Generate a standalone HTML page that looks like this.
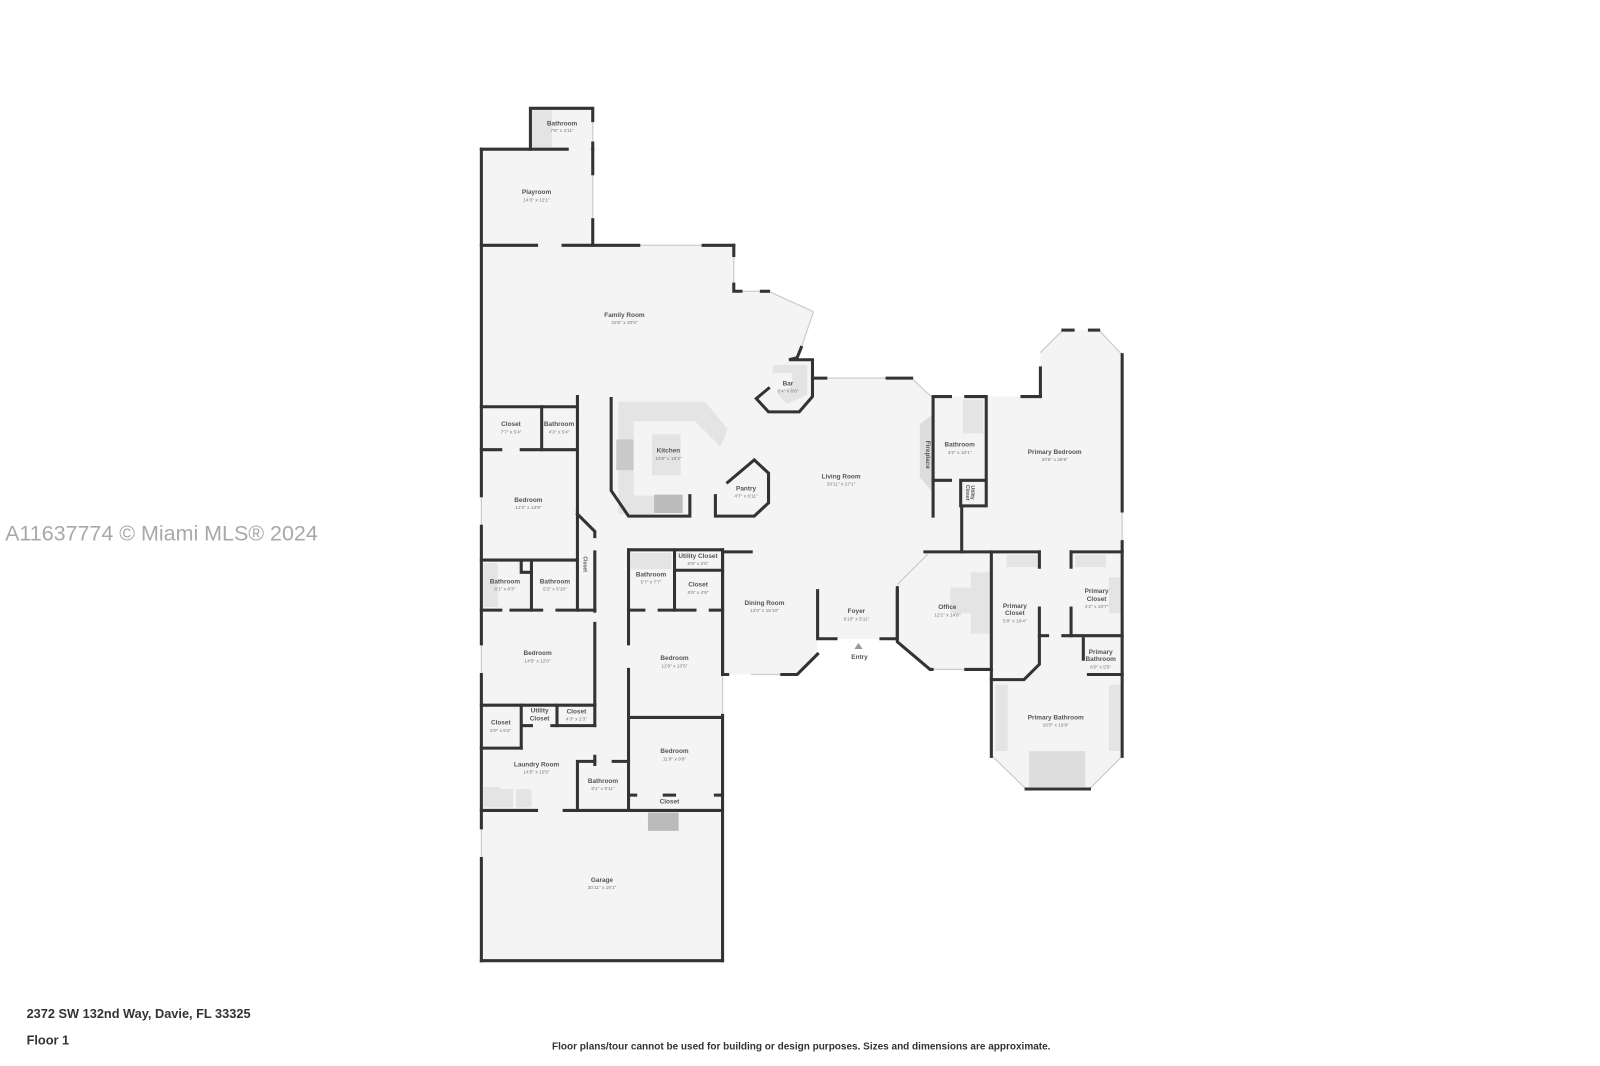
<!DOCTYPE html>
<html><head><meta charset="utf-8"><style>
html,body{margin:0;padding:0;background:#fff;}
svg{display:block;}
.n{font-family:"Liberation Sans",sans-serif;font-size:6.3px;fill:#555;text-anchor:middle;font-weight:bold;}
.d{font-family:"Liberation Sans",sans-serif;font-size:4.7px;fill:#777;text-anchor:middle;}
.w{fill:none;stroke:#333;stroke-width:3;stroke-linecap:square;stroke-linejoin:miter;}
.g{fill:none;stroke:#ccc;stroke-width:1.2;}
.f{fill:#e4e4e4;}
</style></head><body>
<svg width="1600" height="1066" viewBox="0 0 1600 1066" xmlns="http://www.w3.org/2000/svg">
<rect width="1600" height="1066" fill="#fff"/>
<g transform="scale(1.022)">
<polygon fill="#f4f4f4" points="471,146 519,146 519,106 580,106 580,240 718,240 718,285 752,285 796,305 784,340 780,352 795,352 795,370 892,370 913,392 913,388 1018,388 1018,345 1040,323 1075,323 1098,347 1098,740 1066,772 1004,772 971,740 971,655 910,655 878,628 862,625 818,625 800,625 800,640 780,660 707,660 707,940 471,940"/>
<polygon class="f" points="605,393 690,393 712,420 705,437 680,412 620,412 620,485 640,485 640,503 605,503"/>
<rect x="603" y="430" width="17" height="30" fill="#c9c9c9"/>
<rect x="640" y="484" width="28" height="18" fill="#bbb"/>
<rect x="638" y="425" width="28" height="40" class="f"/>
<polygon class="f" points="756,357 790,357 790,386 770,395 760,385 775,378 775,365 756,365"/>
<polygon fill="#ddd" points="900,415 913,405 913,482 900,467"/>
<rect x="942" y="391" width="20" height="33" class="f"/>
<rect x="473" y="551" width="14" height="43" class="f"/>
<rect x="617" y="541" width="40" height="16" class="f"/>
<rect x="473" y="770" width="16" height="20" class="f"/>
<rect x="487" y="772" width="15" height="18" class="f"/>
<rect x="505" y="772" width="15" height="18" class="f"/>
<rect x="634" y="795" width="30" height="18" fill="#bbb"/>
<rect x="520" y="108" width="20" height="36" class="f"/>
<rect x="950" y="560" width="20" height="60" class="f"/>
<rect x="930" y="575" width="40" height="25" class="f"/>
<rect x="1007" y="735" width="55" height="35" fill="#ddd"/>
<rect x="974" y="670" width="12" height="65" class="f"/>
<rect x="1085" y="670" width="12" height="65" class="f"/>
<rect x="985" y="543" width="30" height="12" class="f"/>
<rect x="1052" y="543" width="30" height="12" class="f"/>
<rect x="1085" y="565" width="12" height="35" class="f"/>
<g class="g">
<line x1="718" y1="250" x2="718" y2="280"/><line x1="725" y1="285" x2="745" y2="285"/>
<line x1="752" y1="285" x2="796" y2="305"/><line x1="796" y1="305" x2="784" y2="340"/>
<line x1="808" y1="370" x2="868" y2="370"/><line x1="892" y1="370" x2="913" y2="390"/>
<line x1="1018" y1="345" x2="1040" y2="323"/><line x1="1098" y1="347" x2="1075" y2="323"/>
<line x1="1098" y1="500" x2="1098" y2="530"/><line x1="908" y1="542" x2="878" y2="572"/>
<line x1="912" y1="655" x2="945" y2="655"/><line x1="735" y1="660" x2="765" y2="660"/>
<line x1="971" y1="740" x2="1004" y2="772"/><line x1="1098" y1="740" x2="1066" y2="772"/>
<line x1="707" y1="660" x2="707" y2="700"/><line x1="471" y1="485" x2="471" y2="515"/>
<line x1="471" y1="630" x2="471" y2="660"/><line x1="471" y1="810" x2="471" y2="840"/>
<line x1="625" y1="240" x2="688" y2="240"/><line x1="580" y1="170" x2="580" y2="215"/>
<line x1="580" y1="118" x2="580" y2="140"/>
</g>
<g class="w">
<polyline points="519,146 519,106 580,106 580,118"/><line x1="580" y1="140" x2="580" y2="146"/>
<polyline points="471,146 555,146"/><polyline points="580,146 580,170"/><polyline points="580,215 580,240"/>
<line x1="471" y1="146" x2="471" y2="485"/><line x1="471" y1="515" x2="471" y2="630"/><line x1="471" y1="660" x2="471" y2="810"/><line x1="471" y1="840" x2="471" y2="940"/>
<line x1="471" y1="240" x2="525" y2="240"/><line x1="551" y1="240" x2="625" y2="240"/><line x1="688" y1="240" x2="718" y2="240"/>
<polyline points="718,240 718,250"/><polyline points="718,278 718,285 725,285"/><line x1="745" y1="285" x2="752" y2="285"/>
<polyline points="784,340 780,350 772,352 795,352 795,388 782,403 752,403 740,390 752,380"/>
<line x1="795" y1="370" x2="808" y2="370"/><line x1="868" y1="370" x2="892" y2="370"/>
<polyline points="913,390 913,505"/>
<polyline points="913,388 930,388"/><polyline points="945,388 965,388 965,470 940,470 940,495 965,495 965,470"/>
<line x1="913" y1="470" x2="930" y2="470"/>
<line x1="1000" y1="388" x2="1018" y2="388"/><line x1="1018" y1="388" x2="1018" y2="360"/>
<line x1="1040" y1="323" x2="1050" y2="323"/><line x1="1066" y1="323" x2="1075" y2="323"/>
<line x1="1098" y1="347" x2="1098" y2="500"/><line x1="1098" y1="530" x2="1098" y2="740"/>
<line x1="941" y1="495" x2="941" y2="540"/>
<line x1="905" y1="540" x2="1017" y2="540"/><line x1="1048" y1="540" x2="1098" y2="540"/>
<polyline points="878,575 878,628 910,655 912,655"/><line x1="945" y1="655" x2="970" y2="655"/>
<line x1="970" y1="540" x2="970" y2="740"/>
<line x1="1017" y1="540" x2="1017" y2="555"/><polyline points="1017,595 1017,650 1002,665 970,665"/>
<line x1="1017" y1="622" x2="1025" y2="622"/><line x1="1040" y1="622" x2="1098" y2="622"/>
<line x1="1048" y1="540" x2="1048" y2="555"/><line x1="1048" y1="595" x2="1048" y2="622"/>
<polyline points="1060,625 1060,645"/><line x1="1065" y1="660" x2="1098" y2="660"/>
<polyline points="1004,772 1066,772"/>
<polyline points="800,578 800,625 818,625"/><polyline points="862,625 878,625 878,578"/>
<polyline points="735,540 707,540 707,660 712,660"/><polyline points="765,660 780,660 800,640"/>
<polyline points="598,390 598,480 615,505 675,505 675,485"/>
<polyline points="712,472 738,450 752,463 752,492 738,505 700,505 700,485"/>
<line x1="565" y1="388" x2="565" y2="500"/>
<line x1="471" y1="398" x2="565" y2="398"/><line x1="530" y1="398" x2="530" y2="440"/>
<line x1="471" y1="440" x2="490" y2="440"/><line x1="510" y1="440" x2="565" y2="440"/>
<polyline points="565,500 565,548"/><polyline points="565,503 582,520 582,525"/>
<line x1="582" y1="540" x2="582" y2="598"/>
<line x1="471" y1="548" x2="565" y2="548"/><line x1="520" y1="548" x2="520" y2="597"/>
<polyline points="510,548 510,560 520,560"/>
<line x1="565" y1="548" x2="565" y2="597"/>
<line x1="471" y1="597" x2="490" y2="597"/><line x1="500" y1="597" x2="530" y2="597"/><line x1="545" y1="597" x2="582" y2="597"/>
<line x1="582" y1="610" x2="582" y2="710"/><line x1="582" y1="740" x2="582" y2="748"/>
<line x1="471" y1="690" x2="582" y2="690"/><line x1="510" y1="690" x2="510" y2="732"/><line x1="471" y1="732" x2="510" y2="732"/>
<line x1="545" y1="690" x2="545" y2="710"/><line x1="512" y1="710" x2="520" y2="710"/><line x1="540" y1="710" x2="582" y2="710"/>
<polyline points="565,793 565,745 582,745"/><line x1="600" y1="745" x2="615" y2="745"/>
<line x1="471" y1="793" x2="525" y2="793"/><line x1="552" y1="793" x2="707" y2="793"/>
<line x1="615" y1="538" x2="707" y2="538"/><line x1="615" y1="538" x2="615" y2="630"/><line x1="615" y1="655" x2="615" y2="793"/>
<line x1="660" y1="538" x2="660" y2="597"/><line x1="660" y1="558" x2="707" y2="558"/>
<line x1="615" y1="597" x2="630" y2="597"/><line x1="645" y1="597" x2="680" y2="597"/><line x1="695" y1="597" x2="707" y2="597"/>
<line x1="615" y1="702" x2="707" y2="702"/>
<line x1="615" y1="778" x2="622" y2="778"/><line x1="650" y1="778" x2="660" y2="778"/><line x1="700" y1="778" x2="707" y2="778"/>
<line x1="707" y1="538" x2="707" y2="660"/><line x1="707" y1="700" x2="707" y2="940"/>
<line x1="471" y1="940" x2="707" y2="940"/>
</g>
<polygon points="836,635 844,635 840,629" fill="#999"/>
<text class="n" x="550" y="123">Bathroom</text><text class="d" x="550" y="129">7'8" x 4'11"</text>
<text class="n" x="525" y="190">Playroom</text><text class="d" x="525" y="197">14'3" x 12'1"</text>
<text class="n" x="611" y="310">Family Room</text><text class="d" x="611" y="317">42'5" x 20'6"</text>
<text class="n" x="771" y="377">Bar</text><text class="d" x="771" y="384">6'4" x 6'6"</text>
<text class="n" x="500" y="417">Closet</text><text class="d" x="500" y="424">7'7" x 5'4"</text>
<text class="n" x="547" y="417">Bathroom</text><text class="d" x="547" y="424">4'3" x 5'4"</text>
<text class="n" x="654" y="443">Kitchen</text><text class="d" x="654" y="450">10'6" x 15'3"</text>
<text class="n" x="730" y="480">Pantry</text><text class="d" x="730" y="487">4'7" x 6'11"</text>
<text class="n" x="823" y="468">Living Room</text><text class="d" x="823" y="475">20'11" x 27'1"</text>
<text class="n" x="939" y="437">Bathroom</text><text class="d" x="939" y="444">4'2" x 10'1"</text>
<text class="n" x="1032" y="444">Primary Bedroom</text><text class="d" x="1032" y="451">20'5" x 28'9"</text>
<text class="n" transform="translate(906,445) rotate(90)">Fireplace</text>
<text class="n" transform="translate(950,482) rotate(90)" style="font-size:5px">Utility</text>
<text class="n" transform="translate(945,482) rotate(90)" style="font-size:5px">Closet</text>
<text class="n" x="517" y="491">Bedroom</text><text class="d" x="517" y="498">12'2" x 13'9"</text>
<text class="n" x="494" y="571">Bathroom</text><text class="d" x="494" y="578">6'1" x 8'3"</text>
<text class="n" x="543" y="571">Bathroom</text><text class="d" x="543" y="578">5'2" x 5'10"</text>
<text class="n" transform="translate(571,552) rotate(90)" style="font-size:5px">Closet</text>
<text class="n" x="683" y="546">Utility Closet</text><text class="d" x="683" y="553">5'9" x 2'5"</text>
<text class="n" x="637" y="564">Bathroom</text><text class="d" x="637" y="571">5'7" x 7'7"</text>
<text class="n" x="683" y="574">Closet</text><text class="d" x="683" y="581">5'9" x 4'9"</text>
<text class="n" x="748" y="592">Dining Room</text><text class="d" x="748" y="599">12'0" x 15'10"</text>
<text class="n" x="838" y="600">Foyer</text><text class="d" x="838" y="607">9'10" x 5'11"</text>
<text class="n" x="841" y="645">Entry</text>
<text class="n" x="927" y="596">Office</text><text class="d" x="927" y="603">12'1" x 14'8"</text>
<text class="n" x="993" y="595">Primary</text><text class="n" x="993" y="602">Closet</text><text class="d" x="993" y="609">5'8" x 16'4"</text>
<text class="n" x="1073" y="580">Primary</text><text class="n" x="1073" y="588">Closet</text><text class="d" x="1073" y="595">4'2" x 10'7"</text>
<text class="n" x="1077" y="640">Primary</text><text class="n" x="1077" y="647">Bathroom</text><text class="d" x="1077" y="654">6'0" x 5'5"</text>
<text class="n" x="526" y="641">Bedroom</text><text class="d" x="526" y="648">14'5" x 12'0"</text>
<text class="n" x="660" y="646">Bedroom</text><text class="d" x="660" y="653">11'9" x 13'5"</text>
<text class="n" x="490" y="709">Closet</text><text class="d" x="490" y="716">5'0" x 5'2"</text>
<text class="n" x="528" y="697">Utility</text><text class="n" x="528" y="705">Closet</text>
<text class="n" x="564" y="698">Closet</text><text class="d" x="564" y="705">4'3" x 2'3"</text>
<text class="n" x="1033" y="704">Primary Bathroom</text><text class="d" x="1033" y="711">10'5" x 19'8"</text>
<text class="n" x="660" y="737">Bedroom</text><text class="d" x="660" y="744">11'9" x 9'9"</text>
<text class="n" x="525" y="750">Laundry Room</text><text class="d" x="525" y="757">14'5" x 10'5"</text>
<text class="n" x="590" y="766">Bathroom</text><text class="d" x="590" y="773">6'1" x 5'11"</text>
<text class="n" x="655" y="786">Closet</text>
<text class="n" x="589" y="863">Garage</text><text class="d" x="589" y="870">30'11" x 19'1"</text>
<text x="5" y="529" style="font-family:'Liberation Sans',sans-serif;font-size:21px;fill:#a8a8a8">A11637774 © Miami MLS® 2024</text>
<text x="26" y="996" style="font-family:'Liberation Sans',sans-serif;font-size:12.5px;font-weight:bold;fill:#333">2372 SW 132nd Way, Davie, FL 33325</text>
<text x="26" y="1022" style="font-family:'Liberation Sans',sans-serif;font-size:12.5px;font-weight:bold;fill:#333">Floor 1</text>
<text x="784" y="1027" text-anchor="middle" style="font-family:'Liberation Sans',sans-serif;font-size:9.8px;font-weight:bold;fill:#333">Floor plans/tour cannot be used for building or design purposes. Sizes and dimensions are approximate.</text>
</g>
</svg>
</body></html>
